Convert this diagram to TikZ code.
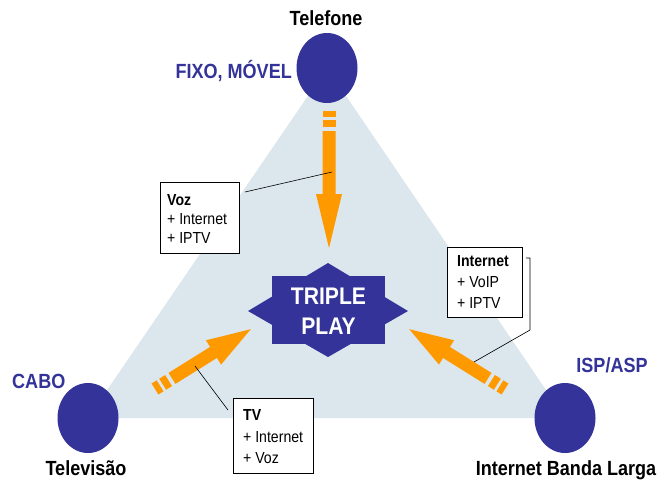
\documentclass[tikz,border=0pt]{standalone}
\usepackage{fontspec}
\setmainfont[FakeStretch=0.88]{Liberation Sans}
\usetikzlibrary{shapes.geometric}
\definecolor{tpblue}{RGB}{51,51,153}
\definecolor{tporange}{RGB}{255,153,0}
\definecolor{tpbg}{RGB}{219,231,236}
\newcommand\tparrow[6]{%
\begin{scope}[shift={(#1,#2)},rotate=#3]
 \fill[tporange] (0,-6.5) rectangle (6,6.5);
 \fill[tporange] (9,-6.5) rectangle (16,6.5);
 \fill[tporange] (20,-6.5) -- ({#4-#5},-6.5) -- ({#4-#5},-#6) -- (#4,0) -- ({#4-#5},#6) -- ({#4-#5},6.5) -- (20,6.5) -- cycle;
\end{scope}}
\tikzset{
  hub/.style={ellipse, fill=tpblue, inner sep=0pt, minimum width=61pt, minimum height=70pt},
  biglbl/.style={font=\fontsize{20.5}{24}\selectfont\bfseries, inner sep=0pt},
  bluelbl/.style={biglbl, text=tpblue},
  infobox/.style={draw=black, line width=0.9pt, fill=white, inner sep=0pt, anchor=north west},
  boxtxt/.style={font=\fontsize{16}{19}\selectfont, inner sep=0pt, anchor=base west},
  boxhead/.style={boxtxt, font=\fontsize{16}{19}\selectfont\bfseries},
  leader/.style={draw=black, line width=0.6pt},
  tptxt/.style={font=\fontsize{24}{28}\selectfont\bfseries, text=white, inner sep=0pt, anchor=base}
}
\begin{document}
\begin{tikzpicture}[x=1pt,y=-1pt]
\useasboundingbox (0,0) rectangle (668,480);
\fill[white] (0,0) rectangle (668,480);
% hubs
\coordinate (telc) at (327,68);
\coordinate (tvc) at (88,418);
\coordinate (ispc) at (565,418);
\fill[tpbg] (telc) -- (tvc) -- (ispc) -- cycle;
\node[hub] (tel) at (telc) {};
\node[hub] (tv) at (tvc) {};
\node[hub] (isp) at (ispc) {};
% star
\fill[tpblue] (272,276) rectangle (385,344);
\fill[tpblue] (328,263) -- (408,311) -- (328,357) -- (248,311) -- cycle;
\node[tptxt] (tp1) at (328.5,304) {TRIPLE};
\node[tptxt] (tp2) at (328.5,334) {PLAY};
% arrows
\tparrow{329}{111}{-90}{137}{54}{13}
\tparrow{155}{389}{32}{113}{44}{14.3}
\tparrow{505}{389}{148}{113}{44}{14.3}
% boxes
\node[infobox, minimum width=79pt, minimum height=71pt] (vozbox) at (160,182) {};
\node[boxhead] (voz1) at (167,205) {Voz};
\node[boxtxt] (voz2) at (167,224) {+ Internet};
\node[boxtxt] (voz3) at (167,243) {+ IPTV};
\node[infobox, minimum width=75pt, minimum height=70pt] (netbox) at (447,247) {};
\node[boxhead] (net1) at (457,266) {Internet};
\node[boxtxt] (net2) at (457,287) {+ VoIP};
\node[boxtxt] (net3) at (457,308) {+ IPTV};
\node[infobox, minimum width=80pt, minimum height=75pt] (tvbox) at (233,398) {};
\node[boxhead] (tvb1) at (243,420) {TV};
\node[boxtxt] (tvb2) at (243,442) {+ Internet};
\node[boxtxt] (tvb3) at (243,463) {+ Voz};
% leaders
\coordinate (vozS) at (245,192);
\coordinate (vozE) at (332,172);
\draw[leader] (vozS) -- (vozE);
\coordinate (netS) at (526,258);
\coordinate (netK) at (530,258);
\coordinate (netM) at (530,330);
\coordinate (netE) at (474,362);
\draw[leader] (netS) -- (netK) -- (netM) -- (netE);
\coordinate (tvS) at (228,410);
\coordinate (tvE) at (195,366);
\draw[leader] (tvS) -- (tvE);
% labels
\node[biglbl, anchor=base] (telt) at (326,25) {Telefone};
\node[bluelbl, anchor=base east] (fixo) at (292,78) {FIXO, MÓVEL};
\node[bluelbl, anchor=base west] (cabo) at (12,388) {CABO};
\node[biglbl, anchor=base] (tvt) at (86,475) {Televisão};
\node[bluelbl, anchor=base] (ispt) at (612,372) {ISP/ASP};
\node[biglbl, anchor=base] (ibl) at (566,475) {Internet Banda Larga};
\end{tikzpicture}
\end{document}
